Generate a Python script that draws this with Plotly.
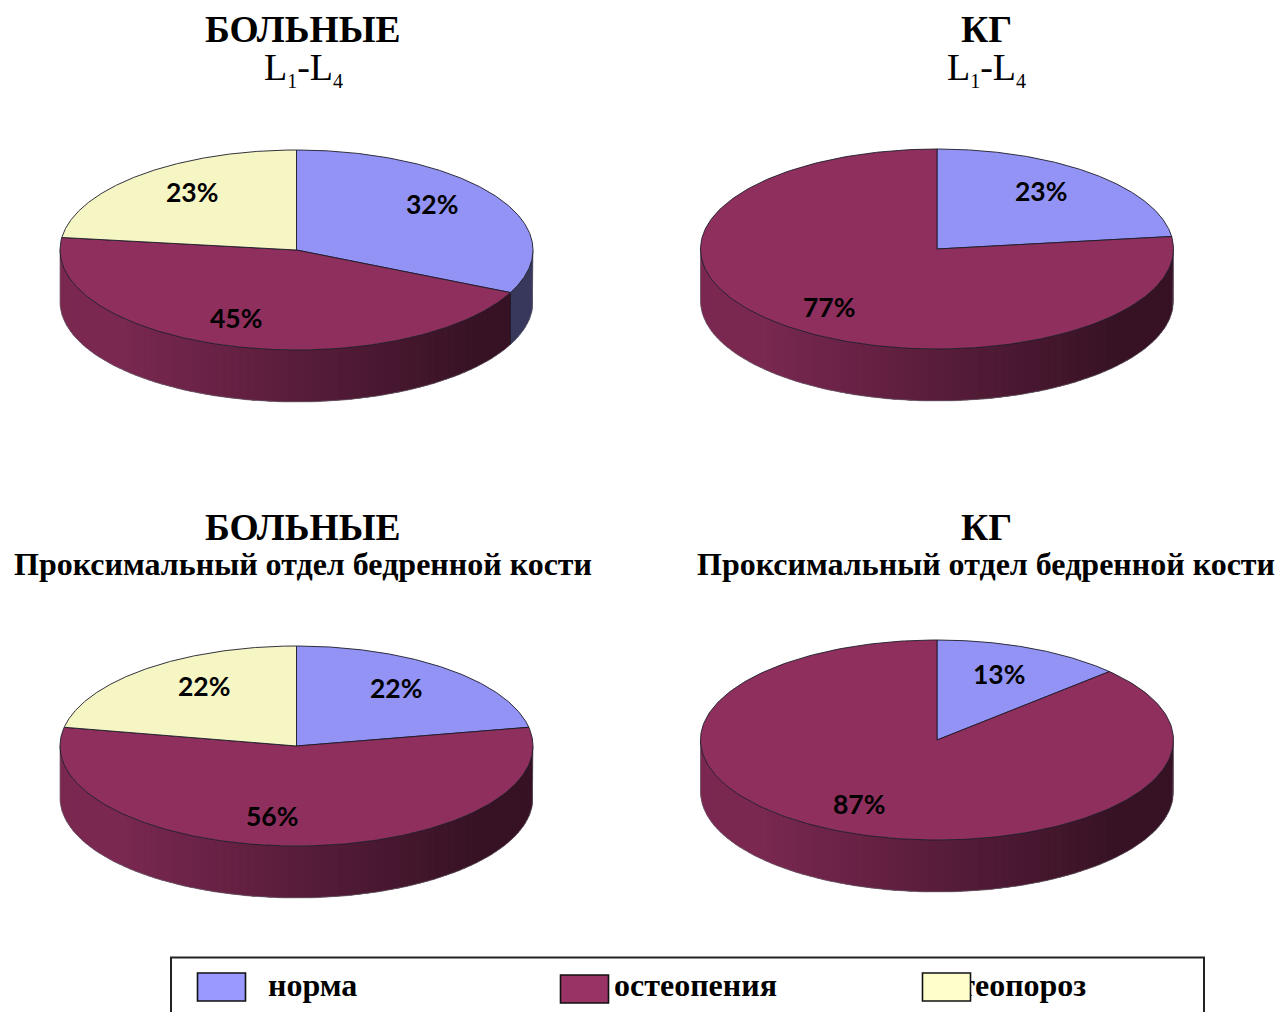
import numpy as np
import plotly.graph_objects as go

WIDTH, HEIGHT = 1278, 1012

# Slice shares, clockwise from twelve o'clock: норма, остеопения, остеопороз
CATEGORIES = ["норма", "остеопения", "остеопороз"]
patients_spine = [32, 45, 23]
control_spine = [23, 77, 0]
patients_femur = [22, 56, 22]
control_femur = [13, 87, 0]

TITLE_PATIENTS = "БОЛЬНЫЕ"
TITLE_CONTROL = "КГ"
SUBTITLE_SPINE = ('L<sub><span style="font-size:20px">1</span></sub>-'
                  'L<sub><span style="font-size:20px">4</span></sub>')
SUBTITLE_FEMUR = "Проксимальный отдел бедренной кости"

TOP_COLORS = ["#9393F6", "#8F2F5E", "#F6F6C5"]
SWATCH_COLORS = ["#9999FF", "#993366", "#FFFFCC"]
INK = "#1c1c28"
RX, RY, DEPTH = 236.5, 100, 52

# Each panel: values, disc centre, title centre x, title rows y, label anchors
panels = [
    dict(values=patients_spine, cx=296.5, cy=250, tx=303, ty=(29.5, 69), title=TITLE_PATIENTS,
         sub=SUBTITLE_SPINE, sub_bold=False, labels=[(432, 204), (236, 318), (192, 192)]),
    dict(values=control_spine, cx=937, cy=249, tx=986, ty=(29.5, 69), title=TITLE_CONTROL,
         sub=SUBTITLE_SPINE, sub_bold=False, labels=[(1041, 191), (829, 307), None]),
    dict(values=patients_femur, cx=296.5, cy=746, tx=303, ty=(527, 563.5), title=TITLE_PATIENTS,
         sub=SUBTITLE_FEMUR, sub_bold=True, labels=[(396, 688), (272, 816), (204, 686)]),
    dict(values=control_femur, cx=937, cy=740, tx=986, ty=(527, 563.5), title=TITLE_CONTROL,
         sub=SUBTITLE_FEMUR, sub_bold=True, labels=[(999, 674), (859, 804), None]),
]


def shade(hex_color, factor):
    r, g, b = (int(hex_color[i:i + 2], 16) for i in (1, 3, 5))
    return f"rgb({r * factor:.0f},{g * factor:.0f},{b * factor:.0f})"


def rim(cx, cy, angles):
    """Points on the tilted disc edge; angles run clockwise from the top."""
    return cx + RX * np.sin(angles), cy - RY * np.cos(angles)


fig = go.Figure()


def polygon(xs, ys, fill, line_color=None, line_width=0.0):
    fig.add_trace(go.Scatter(
        x=list(xs), y=list(ys), mode="lines", fill="toself", fillcolor=fill,
        line=dict(color=line_color or fill, width=line_width),
        hoverinfo="skip", showlegend=False))


def stroke(xs, ys, color=INK, width=0.9):
    fig.add_trace(go.Scatter(x=list(xs), y=list(ys), mode="lines",
                             line=dict(color=color, width=width),
                             hoverinfo="skip", showlegend=False))


def draw_disc(panel):
    cx, cy = panel["cx"], panel["cy"]
    shares = np.array(panel["values"], dtype=float) / sum(panel["values"])
    edges = np.concatenate([[0], np.cumsum(shares)]) * 2 * np.pi

    # Front wall: strips darkening from left to right. Painted from the right
    # end towards the left, each strip runs on under its neighbour so no seams show.
    breaks = np.unique(np.concatenate([
        np.arange(90, 270, 2.0) * np.pi / 180, [1.5 * np.pi],
        edges[(edges > np.pi / 2) & (edges < 1.5 * np.pi)]]))
    for a0, a1 in zip(breaks[:-1], breaks[1:]):
        mid = (a0 + a1) / 2
        idx = int(np.searchsorted(edges, mid) - 1)
        t = (np.sin(mid) + 1) / 2
        factor = 0.93 - 0.62 * t if t > 0.12 else 0.86
        factor = max(factor, 0.38)
        end = min(a1 + np.radians(3), 1.5 * np.pi, edges[idx + 1])
        arc = np.linspace(a0, end, 6)
        x, y = rim(cx, cy, arc)
        polygon(np.r_[x, x[::-1]], np.r_[y, y[::-1] + DEPTH], shade(TOP_COLORS[idx], factor))

    # Wall outline
    arc = np.linspace(np.pi / 2, 1.5 * np.pi, 200)
    x, y = rim(cx, cy, arc)
    stroke(np.r_[x[0], x, x[-1]], np.r_[y[0], y + DEPTH, y[-1]], color="#6a6670", width=0.7)
    for edge in edges[1:-1]:
        if np.pi / 2 < edge < 1.5 * np.pi:
            x, y = rim(cx, cy, np.array([edge]))
            stroke([x[0], x[0]], [y[0], y[0] + DEPTH], color="#1c1420", width=0.8)

    # Top face wedges
    for idx, share in enumerate(shares):
        if share == 0:
            continue
        arc = np.linspace(edges[idx], edges[idx + 1], 240)
        x, y = rim(cx, cy, arc)
        polygon(np.r_[cx, x, cx], np.r_[cy, y, cy], TOP_COLORS[idx], INK, 0.9)


for panel in panels:
    draw_disc(panel)

annotations = []


def text(x, y, content, family, size, bold=False, color="#000000"):
    weight = "bold" if bold else "normal"
    annotations.append(dict(x=x, y=y, xref="x", yref="y", text=content, showarrow=False,
                            xanchor="center", yanchor="middle",
                            font=dict(family=family, size=size, color=color, weight=weight)))


SERIF = "Liberation Serif"
for panel in panels:
    text(panel["tx"], panel["ty"][0], panel["title"], SERIF, 37.5, bold=True)
    if panel["sub_bold"]:
        text(panel["tx"], panel["ty"][1], panel["sub"], SERIF, 32, bold=True)
    else:
        text(panel["tx"], panel["ty"][1], panel["sub"], SERIF, 38)
    for value, anchor in zip(panel["values"], panel["labels"]):
        if anchor is not None:
            text(anchor[0], anchor[1], f"{value}%", "Lato", 26.5, bold=True)

# Legend captions sit below the swatches, which are drawn in the layer above
legend_text_x = [268, 614, 929]
fig.add_trace(go.Scatter(
    x=legend_text_x, y=[988, 988, 988], mode="text", text=CATEGORIES,
    textposition="middle right",
    textfont=dict(family=SERIF, size=32, color="#000000", weight="bold"),
    hoverinfo="skip", showlegend=False))

swatches = [(197.5, 973), (560.5, 975), (922.5, 973)]
shapes = [dict(type="rect", x0=171, x1=1204, y0=957.5, y1=1030, layer="below",
               line=dict(color="#222222", width=2), fillcolor="rgba(0,0,0,0)")]
for (sx, sy), color in zip(swatches, SWATCH_COLORS):
    shapes.append(dict(type="rect", x0=sx, x1=sx + 48, y0=sy, y1=sy + 28, layer="above",
                       line=dict(color="#111111", width=1.6), fillcolor=color))

axis = dict(visible=False, fixedrange=True, showgrid=False, zeroline=False)
fig.update_layout(
    width=WIDTH, height=HEIGHT, margin=dict(l=0, r=0, t=0, b=0),
    paper_bgcolor="#ffffff", plot_bgcolor="#ffffff", showlegend=False,
    xaxis=dict(range=[0, WIDTH], **axis),
    yaxis=dict(range=[HEIGHT, 0], **axis),
    annotations=annotations, shapes=shapes)

fig.write_html("out.html", config=dict(displayModeBar=False))
